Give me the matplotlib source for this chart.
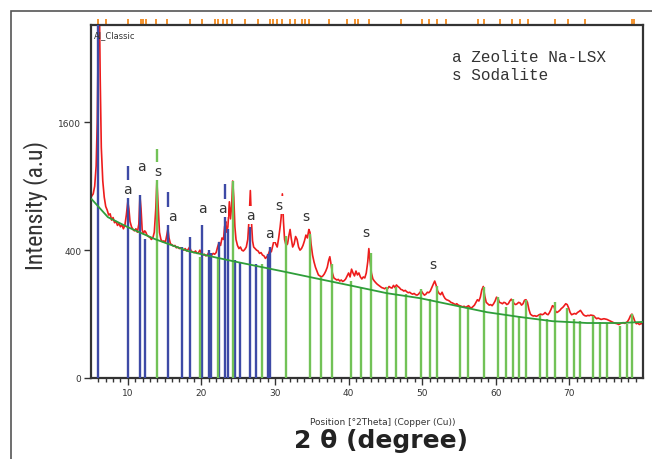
import numpy as np
import matplotlib
matplotlib.use("Agg")
import matplotlib.pyplot as plt
from matplotlib.patches import Rectangle
from matplotlib import transforms, font_manager
from matplotlib.font_manager import FontProperties

# measured pattern (2theta, counts)
tt = [5.0, 5.3, 5.5, 5.7, 5.85, 5.95, 6.05, 6.15, 6.25, 6.4, 6.6, 6.8, 7.0, 7.2, 7.4, 7.6, 7.8, 8.0, 8.2, 8.4,
      8.6, 8.8, 9.0, 9.2, 9.4, 9.6, 9.8, 10.0, 10.15, 10.3, 10.5, 10.7, 10.9, 11.1, 11.3, 11.5, 11.65, 11.8, 11.95, 12.1,
      12.3, 12.45, 12.6, 12.8, 13.0, 13.2, 13.4, 13.6, 13.8, 13.95, 14.1, 14.3, 14.5, 14.7, 14.9, 15.1, 15.3, 15.45, 15.6, 15.8,
      16.0, 16.2, 16.4, 16.6, 16.8, 17.0, 17.2, 17.4, 17.6, 17.8, 18.0, 18.2, 18.4, 18.6, 18.8, 19.0, 19.2, 19.4, 19.6, 19.8,
      20.0, 20.2, 20.4, 20.6, 20.8, 21.0, 21.2, 21.4, 21.6, 21.8, 22.0, 22.2, 22.4, 22.6, 22.8, 23.0, 23.15, 23.3, 23.45, 23.6,
      23.8, 23.95, 24.1, 24.25, 24.4, 24.55, 24.7, 24.9, 25.1, 25.3, 25.5, 25.7, 25.9, 26.1, 26.3, 26.5, 26.65, 26.8, 26.95, 27.1,
      27.3, 27.5, 27.7, 27.9, 28.1, 28.3, 28.5, 28.7, 28.9, 29.1, 29.3, 29.5, 29.7, 29.9, 30.1, 30.3, 30.5, 30.7, 30.85, 31.0,
      31.15, 31.3, 31.5, 31.7, 31.9, 32.05, 32.2, 32.4, 32.6, 32.8, 33.0, 33.2, 33.4, 33.6, 33.8, 34.0, 34.2, 34.4, 34.6, 34.75,
      34.9, 35.1, 35.3, 35.5, 35.7, 35.9, 36.1, 36.3, 36.5, 36.7, 36.9, 37.1, 37.3, 37.45, 37.6, 37.8, 38.0, 38.2, 38.4, 38.6,
      38.8, 39.0, 39.2, 39.4, 39.6, 39.8, 40.0, 40.2, 40.4, 40.6, 40.8, 41.0, 41.2, 41.4, 41.6, 41.8, 42.0, 42.2, 42.4, 42.6,
      42.75, 42.9, 43.1, 43.3, 43.5, 43.7, 43.9, 44.1, 44.3, 44.5, 44.7, 44.9, 45.1, 45.3, 45.5, 45.7, 45.9, 46.1, 46.3, 46.5,
      46.7, 46.9, 47.1, 47.3, 47.5, 47.7, 47.9, 48.1, 48.3, 48.5, 48.7, 48.9, 49.1, 49.3, 49.5, 49.7, 49.9, 50.1, 50.3, 50.5,
      50.7, 50.9, 51.1, 51.3, 51.5, 51.7, 51.9, 52.1, 52.3, 52.5, 52.7, 52.9, 53.1, 53.3, 53.5, 53.7, 53.9, 54.1, 54.3, 54.5,
      54.7, 54.9, 55.1, 55.3, 55.5, 55.7, 55.9, 56.1, 56.3, 56.5, 56.7, 56.9, 57.1, 57.3, 57.5, 57.7, 57.9, 58.1, 58.3, 58.5,
      58.7, 58.9, 59.1, 59.3, 59.5, 59.7, 59.9, 60.1, 60.3, 60.5, 60.7, 60.9, 61.1, 61.3, 61.5, 61.7, 61.9, 62.1, 62.3, 62.5,
      62.7, 62.9, 63.1, 63.3, 63.5, 63.7, 63.9, 64.1, 64.3, 64.5, 64.7, 64.9, 65.1, 65.3, 65.5, 65.7, 65.9, 66.1, 66.3, 66.5,
      66.7, 66.9, 67.1, 67.3, 67.5, 67.7, 67.9, 68.1, 68.3, 68.5, 68.7, 68.9, 69.1, 69.3, 69.5, 69.7, 69.9, 70.1, 70.3, 70.5,
      70.7, 70.9, 71.1, 71.3, 71.5, 71.7, 71.9, 72.1, 72.3, 72.5, 72.7, 72.9, 73.1, 73.3, 73.5, 73.7, 73.9, 74.1, 74.3, 74.5,
      74.7, 74.9, 75.1, 75.3, 75.5, 75.7, 75.9, 76.1, 76.3, 76.5, 76.7, 76.9, 77.1, 77.3, 77.5, 77.7, 77.9, 78.1, 78.3, 78.5,
      78.7, 78.9, 79.1, 79.3, 79.5, 79.7, 80.0]
counts = [800, 830, 900, 1100, 1600, 2500, 3400, 3300, 2200, 1300, 950, 800, 720, 690, 650, 660, 610, 630, 590, 600,
          570, 585, 560, 575, 545, 570, 650, 760, 700, 600, 560, 540, 530, 545, 520, 580, 810, 700, 540, 510,
          530, 520, 500, 490, 485, 470, 480, 520, 700, 950, 760, 520, 470, 455, 460, 450, 500, 545, 480, 440,
          435, 425, 430, 415, 420, 410, 415, 405, 400, 410, 395, 405, 420, 395, 390, 385, 395, 380, 385, 400,
          380, 370, 375, 365, 370, 385, 360, 370, 380, 375, 385, 420, 450, 430, 480, 470, 560, 600, 520, 560,
          760, 620, 720, 950, 800, 560, 470, 430, 410, 420, 400, 395, 405, 420, 470, 640, 860, 600, 460, 420,
          410, 400, 395, 380, 385, 370, 365, 350, 360, 375, 400, 390, 430, 470, 440, 420, 480, 560, 640, 830,
          600, 470, 430, 440, 500, 540, 480, 420, 440, 490, 470, 420, 400, 410, 430, 460, 500, 480, 540, 520,
          440, 370, 330, 300, 280, 260, 255, 250, 255, 265, 280, 300, 340, 360, 320, 270, 245, 240, 235, 238,
          230, 235, 228, 232, 240, 255, 270, 250, 290, 270, 255, 280, 260, 270, 250, 240, 250, 245, 270, 330,
          410, 340, 270, 240, 230, 222, 215, 210, 205, 200, 198, 195, 200, 195, 205, 200, 198, 210, 200, 212,
          205, 200, 192, 190, 185, 188, 182, 178, 180, 175, 172, 175, 170, 168, 172, 180, 185, 175, 168, 172,
          180, 178, 185, 200, 215, 230, 210, 185, 175, 170, 180, 165, 155, 150, 148, 145, 140, 138, 135, 132,
          135, 130, 128, 126, 124, 126, 122, 125, 128, 122, 120, 125, 130, 140, 150, 145, 160, 190, 205, 165,
          140, 135, 130, 132, 128, 135, 145, 160, 155, 140, 138, 135, 140, 138, 132, 135, 145, 152, 145, 135,
          132, 135, 140, 138, 130, 135, 148, 150, 140, 115, 100, 96, 94, 95, 93, 95, 98, 100, 98, 100,
          105, 100, 98, 105, 115, 128, 125, 110, 105, 108, 112, 118, 122, 128, 135, 132, 120, 105, 98, 100,
          102, 100, 105, 108, 112, 105, 98, 95, 94, 96, 95, 97, 96, 95, 90, 86, 88, 86, 84, 85,
          86, 85, 84, 82, 80, 78, 76, 74, 73, 72, 70, 72, 74, 75, 73, 75, 78, 85, 95, 100,
          90, 78, 72, 74, 70, 72, 73]

# fitted background
bg_tt = [5.1, 7.3, 10.0, 13.7, 18.2, 21.8, 24.3, 31.6, 36.1, 40.6, 45.2, 49.7, 54.2, 58.8, 63.3, 67.7, 72.4, 76.9, 80.0]
bg_counts = [782, 633, 557, 472, 394, 357, 334, 274, 239, 207, 176, 156, 130, 106, 91, 79, 74, 74, 77]

# reference patterns: Zeolite Na-LSX (blue) and Sodalite (green)
lsx_pos = [5.96, 10.0, 11.63, 12.36, 15.44, 17.3, 18.43, 20.07, 21.06, 21.25, 22.4, 23.27, 23.55, 24.58, 25.3,
           26.67, 27.4, 29.0, 29.3]
lsx_int = [3400, 1097, 818, 472, 844, 419, 485, 571, 402, 380, 452, 918, 542, 342, 328, 557, 317, 375, 419]
sod_pos = [13.99, 19.8, 22.24, 24.24, 28.2, 31.5, 34.76, 36.2, 37.68, 40.26, 41.62, 42.98, 45.28, 46.41, 47.77,
           49.9, 51.03, 52.03, 55.1, 56.29, 58.37, 60.31, 61.32, 62.27, 63.17, 64.17, 66.07, 66.97, 68.02, 69.69,
           70.6, 71.5, 73.22, 74.22, 75.12, 76.94, 77.76, 78.57]
sod_int = [1280, 357, 357, 947, 317, 494, 506, 250, 317, 231, 201, 385, 201, 201, 172, 196, 152, 208, 125, 122,
           201, 159, 125, 152, 95, 150, 97, 85, 140, 119, 85, 80, 95, 76, 74, 67, 71, 100]

# phase labels
lab_text = ["a", "a", "s", "a", "a", "a", "a", "s", "s", "a", "s", "s"]
lab_x = [10.0, 11.8, 14.1, 16.1, 20.1, 22.8, 26.6, 30.5, 34.2, 29.3, 42.4, 51.4]
lab_y = [872, 1097, 1046, 641, 706, 706, 650, 730, 641, 513, 520, 317]

# peak markers on top
peak_marks = [5.96, 7.10, 9.96, 11.77, 12.08, 12.41, 13.81, 15.35, 18.44, 20.03, 21.84, 22.29, 22.88, 23.43,
              24.11, 25.92, 27.73, 29.32, 29.73, 30.23, 30.91, 32.04, 32.72, 33.63, 34.08, 34.67, 37.39, 39.84,
              40.88, 41.33, 42.83, 47.14, 49.96, 50.95, 52.0, 53.27, 57.52, 58.44, 60.61, 62.2, 63.24, 64.33,
              68.1, 69.77, 72.08, 78.53, 78.84]


def pick_font(names):
    # first narrow family that is really installed
    for n in names:
        try:
            font_manager.findfont(FontProperties(family=n), fallback_to_default=False)
            return n
        except ValueError:
            pass
    return None


def fwd(v):
    return np.sqrt(np.clip(v, 0, None))


def inv(v):
    return np.asarray(v) ** 2


narrow = pick_font(["Liberation Sans Narrow", "Roboto Condensed", "Open Sans Condensed",
                    "DejaVu Sans Condensed", "Noto Sans Condensed"])

fig = plt.figure(figsize=(6.52, 4.6), dpi=100)
fig.patches.append(Rectangle((11 / 652, -0.05), 1.1, 1 - 12 / 460 + 0.05, transform=fig.transFigure,
                             fill=False, edgecolor="#555555", linewidth=1.2))

ax = fig.add_axes([91 / 652, 81 / 460, 552 / 652, 353 / 460])
ax.set_yscale("function", functions=(fwd, inv))

ax.plot(tt, counts, color="#ee1c1c", linewidth=1.2, zorder=2)
ax.vlines(lsx_pos, 0, lsx_int, color="#3d4aa6", linewidth=1.7, zorder=3)
ax.vlines(sod_pos, 0, sod_int, color="#72c257", linewidth=1.7, zorder=3)
ax.plot(bg_tt, bg_counts, color="#2f9e3a", linewidth=1.3, zorder=4)

for t, x, y in zip(lab_text, lab_x, lab_y):
    ax.text(x, y, t, ha="center", va="center", fontsize=10, color="#333333", zorder=5,
            bbox=dict(facecolor="white", edgecolor="none", pad=1.5))

ax.set_xlim(5, 80)
ax.set_ylim(0, 3050)
ax.set_xticks([10, 20, 30, 40, 50, 60, 70])
ax.set_xticks(np.arange(6, 80, 1), minor=True)
ax.set_yticks([0, 400, 1600])
ax.tick_params(axis="both", which="major", direction="out", length=5, width=1, labelsize=6.5,
               colors="#333333", pad=2)
ax.tick_params(axis="x", which="minor", direction="out", length=3, width=1, colors="#333333")
ax.tick_params(axis="y", which="minor", length=0)
for sp in ax.spines.values():
    sp.set_linewidth(1.6)
    sp.set_color("#333333")

trans = transforms.blended_transform_factory(ax.transData, ax.transAxes)
ax.vlines(peak_marks, 1.003, 1.018, transform=trans, color="#f28a1c", linewidth=1.3, clip_on=False)

ax.text(0.005, 0.985, "Al_Classic", transform=ax.transAxes, fontsize=6, va="top", ha="left", color="#333333")
fig.text(452 / 652, 1 - 57 / 460, "a Zeolite Na-LSX", family="Liberation Mono", fontsize=11.5,
         va="center", ha="left", color="#333333")
fig.text(452 / 652, 1 - 76 / 460, "s Sodalite", family="Liberation Mono", fontsize=11.5,
         va="center", ha="left", color="#333333")

if narrow:
    fig.text(36 / 652, 1 - 205 / 460, "Intensity (a.u)", rotation=90, ha="center", va="center",
             family=[narrow, "DejaVu Sans"], fontsize=17, color="#333333")
else:
    fig.text(36 / 652, 1 - 205 / 460, "Intensity (a.u)", rotation=90, ha="center", va="center",
             family="DejaVu Sans", fontstretch="condensed", fontsize=14, color="#333333")
fig.text(383 / 652, 1 - 423 / 460, "Position [\u00b02Theta] (Copper (Cu))", ha="center", va="center",
         fontsize=6.5, color="#333333")
fig.text(381 / 652, 1 - 441 / 460, "2 \u03b8 (degree)", ha="center", va="center",
         fontsize=18, fontweight="bold", color="#222222")

fig.savefig("out.png", dpi=100)
